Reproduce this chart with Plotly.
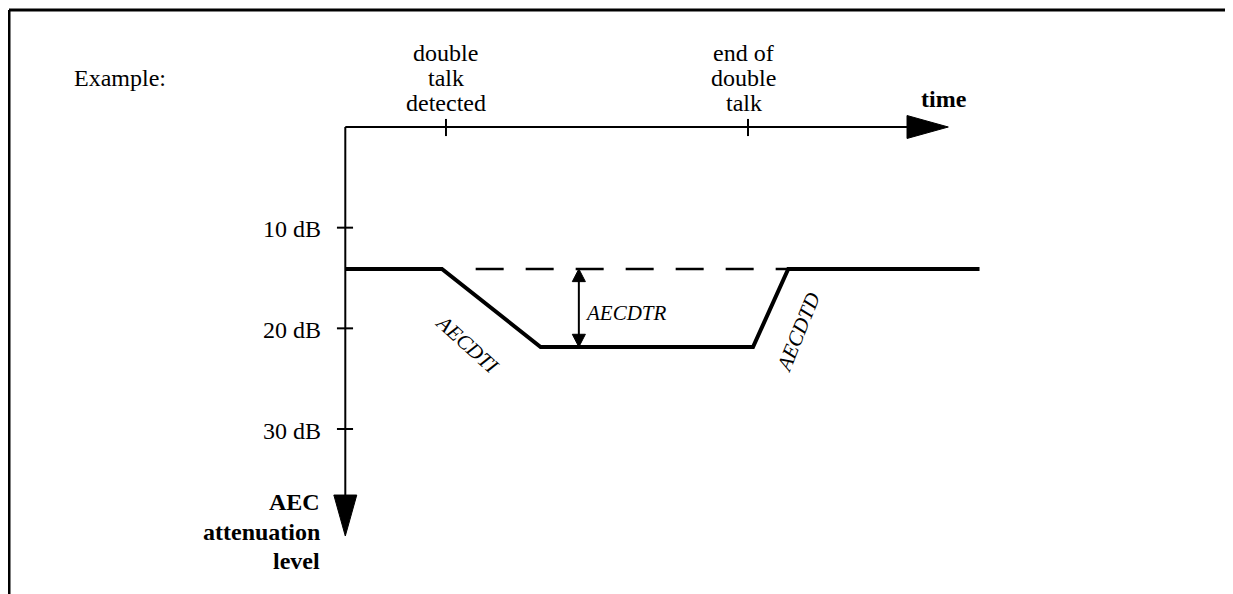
import plotly.graph_objects as go

# time axis: events and attenuation profile (time in arbitrary units, level in dB)
event_t = [1.0, 4.0]
event_labels = [["double", "talk", "detected"], ["end of", "double", "talk"]]
event_label_t = [1.0, 3.96]
label_line_db = [-7.35, -4.87, -2.38]

level_ticks_db = [10, 20, 30]
level_tick_labels = ["10 dB", "20 dB", "30 dB"]

atten_t = [0.0, 0.96, 1.94, 4.05, 4.4, 6.3]
atten_db = [14.1, 14.1, 21.85, 21.85, 14.1, 14.1]

normal_db = 14.1
reduced_db = 21.85
dashed_t = [1.295, 4.4]
dtr_t = 2.32

time_axis_end = 5.99
level_axis_end = 40.63

FONT = "Liberation Serif"
BLACK = "#000000"

# page has an 8px body margin, so the figure is a bit smaller than the window
W, H = 1225, 586

fig = go.Figure()


def add_line(x, y, width=2, dash=None):
    fig.add_trace(go.Scatter(
        x=x, y=y, mode="lines",
        line=dict(color=BLACK, width=width, dash=dash),
        hoverinfo="skip", showlegend=False
    ))


def add_triangle(x, y):
    fig.add_trace(go.Scatter(
        x=x + [x[0]], y=y + [y[0]], mode="lines", fill="toself",
        fillcolor=BLACK, line=dict(color=BLACK, width=1),
        hoverinfo="skip", showlegend=False
    ))


# time axis (horizontal) with arrow head
add_line([0, time_axis_end - 0.41], [0, 0], width=2)
add_triangle([time_axis_end - 0.41, time_axis_end, time_axis_end - 0.41], [-1.14, 0, 1.14])

# level axis (vertical, pointing down) with arrow head
add_line([0, 0], [0, level_axis_end - 4.07], width=2)
add_triangle([-0.114, 0, 0.114], [level_axis_end - 4.07, level_axis_end, level_axis_end - 4.07])

# ticks
for t in event_t:
    add_line([t, t], [-0.8, 0.9], width=2)
for db in level_ticks_db:
    add_line([-0.083, 0.077], [db, db], width=2)

# normal level reference (dashed) and attenuation curve
add_line(dashed_t, [normal_db, normal_db], width=2.5, dash="28px,22px")
add_line(atten_t, atten_db, width=4)

# AECDTR double arrow
add_line([dtr_t, dtr_t], [normal_db + 1.0, reduced_db - 1.0], width=2)
add_triangle([dtr_t - 0.065, dtr_t, dtr_t + 0.065], [normal_db + 1.26, normal_db, normal_db + 1.26])
add_triangle([dtr_t - 0.065, dtr_t, dtr_t + 0.065], [reduced_db - 1.26, reduced_db, reduced_db - 1.26])

annotations = []


def text(x, y, s, size=24, xanchor="center", angle=0):
    annotations.append(dict(
        x=x, y=y, xref="x", yref="y", text=s, showarrow=False,
        xanchor=xanchor, yanchor="middle", textangle=angle,
        font=dict(family=FONT, size=size, color=BLACK)
    ))


text(-2.715, -4.87, "Example:", xanchor="left")
for lt, lines in zip(event_label_t, event_labels):
    for line, ly in zip(lines, label_line_db):
        text(lt, ly, line)
text(5.70, -2.78, "<b>time</b>", xanchor="left")

for db, lab in zip(level_ticks_db, level_tick_labels):
    text(-0.22, db + 0.15, lab, xanchor="right")

for ly, lab in zip([37.26, 40.24, 43.13], ["AEC", "attenuation", "level"]):
    text(-0.233, ly, "<b>%s</b>" % lab, xanchor="right")

text(2.36, 18.48, "<i>AECDTR</i>", size=21, xanchor="left")
text(1.21, 21.56, "<i>AECDTI</i>", size=21, angle=42)
text(4.5, 20.36, "<i>AECDTD</i>", size=21, angle=-68)

# outer frame (top and left edges only)
fx, fy = 1 / W, 1 - 2 / H
shapes = [
    dict(type="line", xref="paper", yref="paper", x0=fx, x1=1.0,
         y0=fy, y1=fy, line=dict(color=BLACK, width=3)),
    dict(type="line", xref="paper", yref="paper", x0=fx, x1=fx,
         y0=0, y1=fy, line=dict(color=BLACK, width=3)),
]

fig.update_layout(
    width=W, height=H,
    margin=dict(l=0, r=0, t=0, b=0),
    paper_bgcolor="white", plot_bgcolor="white",
    xaxis=dict(range=[-3.3506, 8.818], visible=False, fixedrange=True),
    yaxis=dict(range=[46.39, -11.821], visible=False, fixedrange=True),
    showlegend=False, hovermode=False,
    annotations=annotations, shapes=shapes
)

fig.write_html("out.html")
